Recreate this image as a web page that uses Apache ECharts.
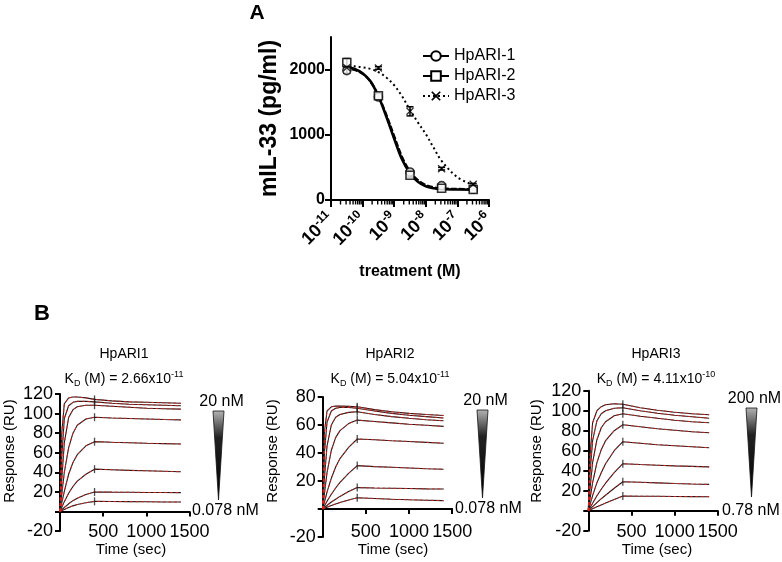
<!DOCTYPE html>
<html><head><meta charset="utf-8">
<script src="https://cdn.jsdelivr.net/npm/echarts@6.0.0/dist/echarts.min.js"></script>
<style>html,body{margin:0;padding:0;background:#fff}#c{width:782px;height:562px}</style>
</head><body><div id="c"></div>
<script>
// ---------- Panel A: dose response ----------
const aTickLabels = [-11, -10, -9, -8, -7, -6];          // exponents of 10
const logConc = [-10.5, -9.5, -8.5, -7.5, -6.5];          // log10 treatment (M)
const hpari1 = [1985, 1580, 430, 220, 165];
const hpari1Err = [40, 35, 35, 15, 10];
const hpari2 = [2110, 1600, 380, 180, 160];
const hpari2Err = [60, 40, 30, 10, 10];
const hpari3 = [2030, 2025, 1360, 480, 240];
const hpari3Err = [20, 20, 70, 20, 15];
// fitted curves
const curveX = [-10.6, -10.25, -10, -9.75, -9.5, -9.25, -9, -8.75, -8.5, -8.25, -8, -7.75, -7.5, -7, -6.5];
const fit1 = [2030, 1995, 1935, 1815, 1600, 1310, 980, 660, 440, 305, 230, 195, 180, 170, 168];
const fit2 = [2060, 2010, 1945, 1820, 1590, 1280, 940, 620, 410, 280, 210, 180, 168, 160, 158];
const fit3 = [2060, 2050, 2035, 2010, 1960, 1880, 1760, 1590, 1380, 1190, 1010, 800, 600, 350, 230];
const aYTicks = [0, 1000, 2000];

// ---------- Panel B: SPR sensorgrams ----------
const sprTime = [0, 20, 50, 100, 150, 200, 300, 400, 600, 800, 1000, 1200, 1400];
const hpari1Traces = [
  [0, 80, 110, 116, 117, 117, 116, 114.5, 113, 112, 111.5, 111, 110.5],
  [0, 55, 95, 108, 111.5, 112.5, 112.5, 112, 110.5, 109.5, 109, 108.5, 108],
  [0, 32, 70, 96, 104, 107, 108.5, 108.5, 107.5, 106.5, 105.5, 105, 104.5],
  [0, 17, 40, 65, 80, 88, 94.5, 96.3, 95.5, 95, 94.5, 94, 93.6],
  [0, 8.5, 20.5, 38, 50, 58, 67, 71.3, 70.7, 70.2, 69.7, 69.3, 68.9],
  [0, 4, 10, 18.5, 25.5, 31, 38, 43.2, 42.6, 42, 41.5, 41, 40.5],
  [0, 1.6, 4, 7.8, 11, 13.5, 17.2, 19.9, 19.7, 19.6, 19.4, 19.3, 19.2],
  [0, 0.8, 2, 4, 5.7, 7, 8.9, 10.3, 10.1, 10, 9.9, 9.7, 9.6]
];
const hpari2Traces = [
  [0, 55, 70, 73, 73.5, 73.5, 73.3, 73, 71, 69.5, 68.3, 67.5, 66.8],
  [0, 40, 62, 70, 72, 72.5, 72.5, 72, 70, 68.3, 67, 66, 65],
  [0, 22, 45, 60, 65.5, 67.5, 69, 69.5, 67.5, 66, 64.8, 63.8, 63],
  [0, 11, 26, 42, 51, 56, 61, 63.5, 62.5, 61.5, 60.5, 59.8, 59],
  [0, 5, 12, 22, 30, 36, 44, 50, 49.5, 48.8, 48.2, 47.6, 47],
  [0, 2.2, 5.5, 10.5, 15, 19, 25.5, 31, 30.3, 29.8, 29.3, 28.8, 28.4],
  [0, 1, 2.5, 5, 7, 9, 12.5, 15.3, 15, 14.8, 14.6, 14.4, 14.3],
  [0, 0.5, 1.2, 2.5, 3.6, 4.6, 6.4, 8, 7.5, 7, 6.6, 6.3, 6]
];
const hpari3Traces = [
  [0, 55, 88, 100, 104, 106, 107, 106.5, 103, 100.5, 98.5, 97, 96],
  [0, 38, 70, 90, 97, 100, 102.5, 103, 100, 97.5, 95.5, 94, 92.5],
  [0, 22, 48, 71, 83, 89, 95, 97, 94.5, 92.5, 90.5, 89, 88],
  [0, 12, 28, 48, 61, 70, 80, 86, 84, 82, 80.5, 79, 78],
  [0, 6, 15, 28, 38, 47, 60, 69, 67.5, 66, 65, 64, 63],
  [0, 3, 7.5, 15, 21.5, 27.5, 38, 47, 46.2, 45.5, 44.8, 44.3, 43.8],
  [0, 1.6, 4, 8, 12, 15.5, 22.5, 29, 28.4, 27.8, 27.2, 26.7, 26.3],
  [0, 0.8, 2, 4, 5.8, 7.6, 11.2, 14.7, 14.5, 14.4, 14.2, 14.1, 14]
];
const injectionEnd = 400;
const bTitles = ['HpARI1', 'HpARI2', 'HpARI3'];
const bKdMantissa = ['2.66', '5.04', '4.11'];
const bKdExp = ['-11', '-11', '-10'];
const bYMax = [120, 80, 120];
const bHighConc = ['20 nM', '20 nM', '200 nM'];
const bLowConc = ['0.078 nM', '0.078 nM', '0.78 nM'];

// ---------- build ----------
const FF = "'Liberation Sans', Arial, sans-serif";
const BLK = '#000';
const chart = echarts.init(document.getElementById('c'));

const bGrids = [
  {left: 60, top: 394, width: 129.5, height: 137},
  {left: 322.7, top: 397, width: 129.5, height: 140},
  {left: 588.3, top: 390.7, width: 129.5, height: 140}
];
const bXLabelMargin = [-8, -14, -8];
const grids = [{left: 331, top: 37, width: 158, height: 163}].concat(bGrids);
grids.forEach(g => { g.containLabel = false; g.outerBoundsMode = 'none'; });

const xAxes = [{
  type: 'value', gridIndex: 0, min: -11, max: -6, interval: 1,
  axisLine: {show: true, onZero: true, lineStyle: {color: BLK, width: 2}},
  axisTick: {show: true, length: 7, lineStyle: {color: BLK, width: 2}},
  splitLine: {show: false},
  axisLabel: {
    rotate: 45, margin: 16, color: BLK, align: 'right', verticalAlign: 'middle',
    formatter: v => '{b|10}{s|' + v + '}',
    rich: {
      b: {fontSize: 18, fontWeight: 'bold', fontFamily: FF, color: BLK, lineHeight: 22, align: 'right'},
      s: {fontSize: 12, fontWeight: 'bold', fontFamily: FF, color: BLK, verticalAlign: 'top', align: 'right'}
    }
  },
  name: 'treatment (M)', nameLocation: 'middle', nameGap: 64, nameMoveOverlap: false,
  nameTextStyle: {fontSize: 16, fontWeight: 'bold', fontFamily: FF, color: BLK}
}];
const yAxes = [{
  type: 'value', gridIndex: 0, min: 0, max: 2500,
  axisLine: {show: true, lineStyle: {color: BLK, width: 2}},
  axisTick: {show: true, length: 6, customValues: aYTicks, lineStyle: {color: BLK, width: 2}},
  axisLabel: {customValues: aYTicks, fontSize: 16, fontWeight: 'bold', fontFamily: FF, color: BLK, margin: 6,
    formatter: v => String(v)},
  splitLine: {show: false},
  name: 'mIL-33 (pg/ml)', nameLocation: 'middle', nameGap: 50, nameRotate: 90, nameMoveOverlap: false,
  nameTextStyle: {fontSize: 23, fontWeight: 'bold', fontFamily: FF, color: BLK}
}];
for (let i = 0; i < 3; i++) {
  xAxes.push({
    type: 'value', gridIndex: i + 1, min: 0, max: 1500, interval: 500,
    axisLine: {show: true, onZero: true, lineStyle: {color: BLK, width: 2}},
    axisTick: {show: true, length: 5, lineStyle: {color: BLK, width: 2}},
    axisLabel: {fontSize: 18, fontFamily: FF, color: BLK, margin: bXLabelMargin[i], formatter: v => v === 0 ? '' : String(v)},
    splitLine: {show: false}
  });
  yAxes.push({
    type: 'value', gridIndex: i + 1, min: -20, max: bYMax[i], interval: 20,
    axisLine: {show: true, onZero: false, lineStyle: {color: BLK, width: 2}},
    axisTick: {show: true, length: 5, lineStyle: {color: BLK, width: 2}},
    axisLabel: {fontSize: 18, fontFamily: FF, color: BLK, margin: 7, formatter: v => v === 0 ? '' : String(v)},
    splitLine: {show: false}
  });
}

const series = [];
// minor log ticks on panel A x-axis
const minorTicks = [];
for (let d = -11; d < -6; d++) for (let k = 2; k <= 9; k++) minorTicks.push([d + Math.log10(k), 0]);
series.push({
  type: 'custom', xAxisIndex: 0, yAxisIndex: 0, data: minorTicks, silent: true, clip: false, z: 1,
  renderItem: (p, api) => {
    const c = api.coord([api.value(0), 0]);
    return {type: 'line', shape: {x1: c[0], y1: c[1], x2: c[0], y2: c[1] + 4.5}, style: {stroke: BLK, lineWidth: 1.4}};
  }
});
const xPath = 'path://M0,1.2L1.2,0L5,3.8L8.8,0L10,1.2L6.2,5L10,8.8L8.8,10L5,6.2L1.2,10L0,8.8L3.8,5Z';
const aSets = [
  {name: 'HpARI-1', fit: fit1, y: hpari1, e: hpari1Err, sym: 'emptyCircle', ptSym: 'circle', line: {type: [6, 2], width: 2.2}},
  {name: 'HpARI-2', fit: fit2, y: hpari2, e: hpari2Err, sym: 'emptyRect', ptSym: 'rect', line: {type: 'solid', width: 2.6}},
  {name: 'HpARI-3', fit: fit3, y: hpari3, e: hpari3Err, sym: xPath, ptSym: xPath, line: {type: [2, 3], width: 2}}
];
aSets.forEach(s => {
  series.push({
    type: 'line', name: s.name, xAxisIndex: 0, yAxisIndex: 0, smooth: 0.35, showSymbol: false,
    symbol: s.sym, symbolSize: 8,
    data: curveX.map((x, i) => [x, s.fit[i]]),
    lineStyle: Object.assign({color: BLK}, s.line),
    itemStyle: {color: BLK, borderColor: BLK}, z: 2
  });
  series.push({
    type: 'custom', xAxisIndex: 0, yAxisIndex: 0, silent: true, z: 3,
    data: logConc.map((x, i) => [x, s.y[i] - s.e[i], s.y[i] + s.e[i]]),
    renderItem: (p, api) => {
      const lo = api.coord([api.value(0), api.value(1)]);
      const hi = api.coord([api.value(0), api.value(2)]);
      return {type: 'group', children: [
        {type: 'line', shape: {x1: lo[0], y1: lo[1], x2: hi[0], y2: hi[1]}, style: {stroke: BLK, lineWidth: 1.5}},
        {type: 'line', shape: {x1: hi[0] - 3.5, y1: hi[1], x2: hi[0] + 3.5, y2: hi[1]}, style: {stroke: BLK, lineWidth: 1.5}},
        {type: 'line', shape: {x1: lo[0] - 3.5, y1: lo[1], x2: lo[0] + 3.5, y2: lo[1]}, style: {stroke: BLK, lineWidth: 1.5}}
      ]};
    }
  });
  series.push({
    type: 'scatter', xAxisIndex: 0, yAxisIndex: 0, symbol: s.ptSym, symbolSize: 8,
    data: logConc.map((x, i) => [x, s.y[i]]),
    itemStyle: s.ptSym === xPath ? {color: BLK} : {color: '#fff', borderColor: BLK, borderWidth: 1.6}, z: 4
  });
});

[hpari1Traces, hpari2Traces, hpari3Traces].forEach((traces, ci) => {
  traces.forEach(tr => {
    const d = sprTime.map((t, i) => [t, tr[i]]);
    series.push({type: 'line', xAxisIndex: ci + 1, yAxisIndex: ci + 1, data: d, showSymbol: false, symbol: 'none',
      lineStyle: {color: '#1c1c1c', width: 1.1}, silent: true, z: 3});
    series.push({type: 'line', xAxisIndex: ci + 1, yAxisIndex: ci + 1, data: d, showSymbol: false, symbol: 'none',
      lineStyle: {color: '#e3211c', width: 1, type: [3, 2.5], opacity: 0.85}, silent: true, z: 4});
  });
  series.push({type: 'scatter', xAxisIndex: ci + 1, yAxisIndex: ci + 1, silent: true, z: 5,
    data: traces.map(tr => [injectionEnd, tr[sprTime.indexOf(injectionEnd)]]),
    symbol: 'rect', symbolSize: [1.3, 8], itemStyle: {color: '#222'}});
});

// ---------- free text and wedges ----------
function txt(x, y, text, font, align, extra) {
  return {type: 'text', x: x, y: y, silent: true, style: Object.assign({
    text: text, font: font, fill: BLK, align: align || 'center', textAlign: align || 'center',
    verticalAlign: 'middle', textVerticalAlign: 'middle'}, extra || {})};
}
const graphic = [
  txt(257, 13, 'A', 'bold 21px ' + FF),
  txt(42, 314, 'B', 'bold 22px ' + FF)
];
const titleX = [124, 390, 656];
const wedgeX = [218.5, 482.5, 751.5];
const wedgeTop = [411, 410, 408];
const wedgeBot = [500, 498, 497];
const lowLabelX = [192, 455, 722];
const lowLabelY = [511, 509, 511];
const yTitleX = [10, 273, 537];
const xTitleX = [131, 393, 657];
for (let i = 0; i < 3; i++) {
  graphic.push(txt(titleX[i], 354, bTitles[i], '14px ' + FF));
  graphic.push(txt(titleX[i], 379, '{k|K}{d|D}{n| (M) = ' + bKdMantissa[i] + 'x10}{s|' + bKdExp[i] + '}', '14px ' + FF, 'center', {
    rich: {
      k: {fontSize: 14, fontFamily: FF, fill: BLK, lineHeight: 18},
      n: {fontSize: 14, fontFamily: FF, fill: BLK, lineHeight: 18},
      d: {fontSize: 9, fontFamily: FF, fill: BLK, verticalAlign: 'bottom'},
      s: {fontSize: 9, fontFamily: FF, fill: BLK, verticalAlign: 'top'}
    }
  }));
  const wx = wedgeX[i];
  graphic.push({type: 'polygon', silent: true,
    shape: {points: [[wx - 5.5, wedgeTop[i]], [wx + 5.5, wedgeTop[i]], [wx, wedgeBot[i]]]},
    style: {fill: new echarts.graphic.LinearGradient(0, 0, 0, 1, [
      {offset: 0, color: '#b4b4b4'}, {offset: 0.3, color: '#222'}, {offset: 1, color: '#000'}]),
      stroke: '#111', lineWidth: 0.8}});
  graphic.push(txt(wx + 3, wedgeTop[i] - 9, bHighConc[i], '16px ' + FF));
  graphic.push(txt(lowLabelX[i], lowLabelY[i], bLowConc[i], '16px ' + FF, 'left'));
  graphic.push(Object.assign(txt(yTitleX[i], 451, 'Response (RU)', '15px ' + FF), {rotation: Math.PI / 2}));
  graphic.push(txt(xTitleX[i], 550, 'Time (sec)', '15px ' + FF));
}

chart.setOption({
  animation: false,
  backgroundColor: '#fff',
  grid: grids,
  xAxis: xAxes,
  yAxis: yAxes,
  legend: {
    data: [
      {name: 'HpARI-1', lineStyle: {type: 'solid'}},
      {name: 'HpARI-2'},
      {name: 'HpARI-3'}
    ],
    orient: 'vertical', left: 417, top: 43, itemWidth: 26, itemHeight: 12, itemGap: 4,
    textStyle: {fontSize: 16, fontFamily: FF, color: BLK}, selectedMode: false
  },
  graphic: graphic,
  series: series
});
</script>
</body></html>
